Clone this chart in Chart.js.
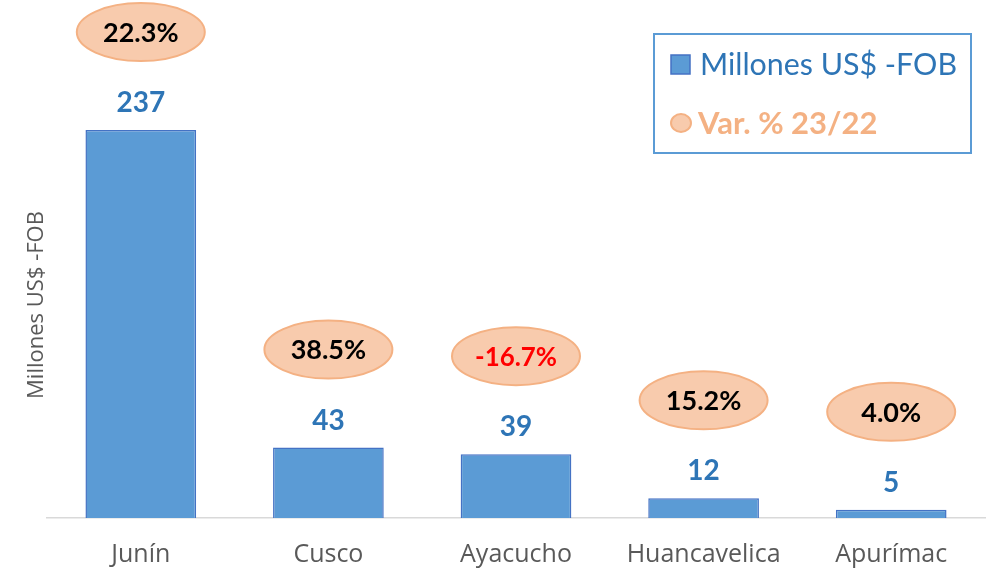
<!DOCTYPE html>
<html lang="es">
<head>
<meta charset="UTF-8">
<title>Exportaciones por región</title>
<script src="https://cdn.jsdelivr.net/npm/chart.js"></script>
<style>
    html, body { margin: 0; padding: 0; background: #ffffff; }
    .chart-box { position: relative; width: 987px; height: 569px; }
</style>
</head>
<body>
<div class="chart-box">
    <canvas id="exportChart"></canvas>
</div>
<script>
    // datos
    const regiones = ['Junín', 'Cusco', 'Ayacucho', 'Huancavelica', 'Apurímac'];
    const millonesFob = [237, 43, 39, 12, 5];
    const variacion = [22.3, 38.5, -16.7, 15.2, 4.0];

    const serieBarras = 'Millones US$ -FOB';
    const serieVar = 'Var. % 23/22';

    function drawEllipse(ctx, cx, cy, rx, ry) {
        ctx.beginPath();
        ctx.ellipse(cx, cy, rx, ry, 0, 0, Math.PI * 2);
        ctx.fillStyle = '#f8cbad';
        ctx.fill();
        ctx.lineWidth = 2;
        ctx.strokeStyle = '#f4b183';
        ctx.stroke();
    }

    // etiquetas de valores, óvalos de variación, leyenda y título del eje
    const extras = {
        id: 'extras',
        afterDatasetsDraw(chart) {
            const ctx = chart.ctx;
            const meta = chart.getDatasetMeta(0);
            ctx.save();
            ctx.textAlign = 'center';
            ctx.textBaseline = 'middle';
            meta.data.forEach((bar, i) => {
                ctx.font = 'bold 28px Lato';
                ctx.fillStyle = '#2e75b6';
                ctx.fillText(millonesFob[i], bar.x, bar.y - 27);

                const cy = bar.y - 98;
                drawEllipse(ctx, bar.x, cy, 64, 29);
                ctx.font = 'bold 27px Lato';
                ctx.fillStyle = variacion[i] < 0 ? '#ff0000' : '#000000';
                ctx.fillText(variacion[i].toFixed(1) + '%', bar.x, cy + 1, 82);
            });

            // leyenda
            ctx.lineWidth = 2;
            ctx.strokeStyle = '#5b9bd5';
            ctx.strokeRect(654, 34, 317, 119);
            ctx.fillStyle = '#5b9bd5';
            ctx.fillRect(671, 55, 19, 19);
            ctx.lineWidth = 1.5;
            ctx.strokeStyle = '#4472c4';
            ctx.strokeRect(671, 55, 19, 19);
            ctx.textAlign = 'left';
            ctx.font = '31px Lato';
            ctx.fillStyle = '#2e75b6';
            ctx.fillText(serieBarras, 700, 65, 257);
            drawEllipse(ctx, 681, 123, 10, 9);
            ctx.font = 'bold 31px Lato';
            ctx.fillStyle = '#f4b183';
            ctx.fillText(serieVar, 698, 124, 187);

            // título eje y
            ctx.translate(37, 305);
            ctx.rotate(-Math.PI / 2);
            ctx.textAlign = 'center';
            ctx.font = '22px "Open Sans"';
            ctx.fillStyle = '#595959';
            ctx.fillText(serieBarras, 0, 0);
            ctx.restore();
        }
    };

    new Chart(document.getElementById('exportChart'), {
        type: 'bar',
        data: {
            labels: regiones,
            datasets: [{
                label: serieBarras,
                data: millonesFob,
                backgroundColor: '#5b9bd5',
                borderColor: '#4472c4',
                borderWidth: 1.5,
                categoryPercentage: 1,
                barPercentage: 0.59
            }]
        },
        options: {
            responsive: true,
            maintainAspectRatio: false,
            animation: false,
            layout: { padding: { left: 47, right: 2, top: 27, bottom: -23 } },
            scales: {
                x: {
                    grid: { display: false, drawTicks: false },
                    border: { color: '#d9d9d9', width: 1.5 },
                    ticks: {
                        color: '#595959',
                        font: { family: 'Open Sans', size: 25, lineHeight: 1.12 },
                        padding: 23
                    }
                },
                y: {
                    display: false,
                    min: 0,
                    max: 300
                }
            },
            plugins: {
                legend: { display: false },
                tooltip: { enabled: false }
            }
        },
        plugins: [extras]
    });
</script>
</body>
</html>
